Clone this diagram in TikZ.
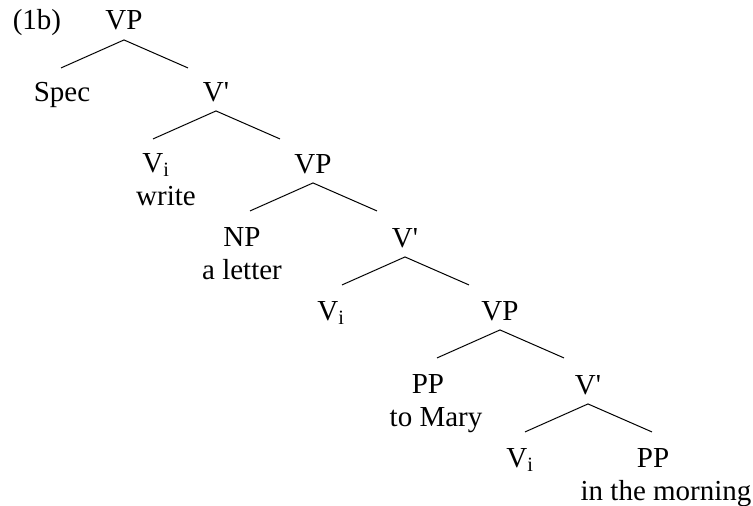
\documentclass[tikz,border=0pt]{standalone}
\usepackage{fontspec}
\setmainfont{Liberation Serif}[Ligatures=TeXOff]

\begin{document}
\begin{tikzpicture}[x=1pt,y=-1pt,line width=1pt,
    every node/.style={font=\fontsize{29}{34}\selectfont,anchor=base,inner sep=0pt},
    cat/.style={inner ysep=9pt}]
  \useasboundingbox (0,0) rectangle (753,506);
  \node (tag) at (37,30) {(1b)};
  % categories
  \node[cat] (vpa) at (124,30) {VP};
  \node[cat] (spec) at (62,101) {Spec};
  \node[cat] (vbara) at (216,101) {V'};
  \node[cat] (via) at (156,172) {V\textsubscript{i}};
  \node[cat] (vpb) at (313,173) {VP};
  \node[cat] (np) at (242,246) {NP};
  \node[cat] (vbarb) at (405,247) {V'};
  \node[cat] (vib) at (331,320) {V\textsubscript{i}};
  \node[cat] (vpc) at (500,320) {VP};
  \node[cat] (ppa) at (428,393) {PP};
  \node[cat] (vbarc) at (588,394) {V'};
  \node[cat] (vic) at (520,467) {V\textsubscript{i}};
  \node[cat] (ppb) at (653,467) {PP};
  % words
  \node (write) at (166,205) {write};
  \node (letter) at (242,279) {a letter};
  \node (mary) at (436,426) {to Mary};
  \node (morning) at (666,500) {in the morning};
  % branches
  \draw (vpa.south) -- ++(-63,28) coordinate (spec-top);
  \draw (vpa.south) -- ++(64,28) coordinate (vbara-top);
  \draw (vbara.south) -- ++(-63,28) coordinate (via-top);
  \draw (vbara.south) -- ++(64,28) coordinate (vpb-top);
  \draw (vpb.south) -- ++(-63,28) coordinate (np-top);
  \draw (vpb.south) -- ++(64,28) coordinate (vbarb-top);
  \draw (vbarb.south) -- ++(-63,28) coordinate (vib-top);
  \draw (vbarb.south) -- ++(64,28) coordinate (vpc-top);
  \draw (vpc.south) -- ++(-63,28) coordinate (ppa-top);
  \draw (vpc.south) -- ++(64,28) coordinate (vbarc-top);
  \draw (vbarc.south) -- ++(-63,28) coordinate (vic-top);
  \draw (vbarc.south) -- ++(64,28) coordinate (ppb-top);
\end{tikzpicture}
\end{document}
